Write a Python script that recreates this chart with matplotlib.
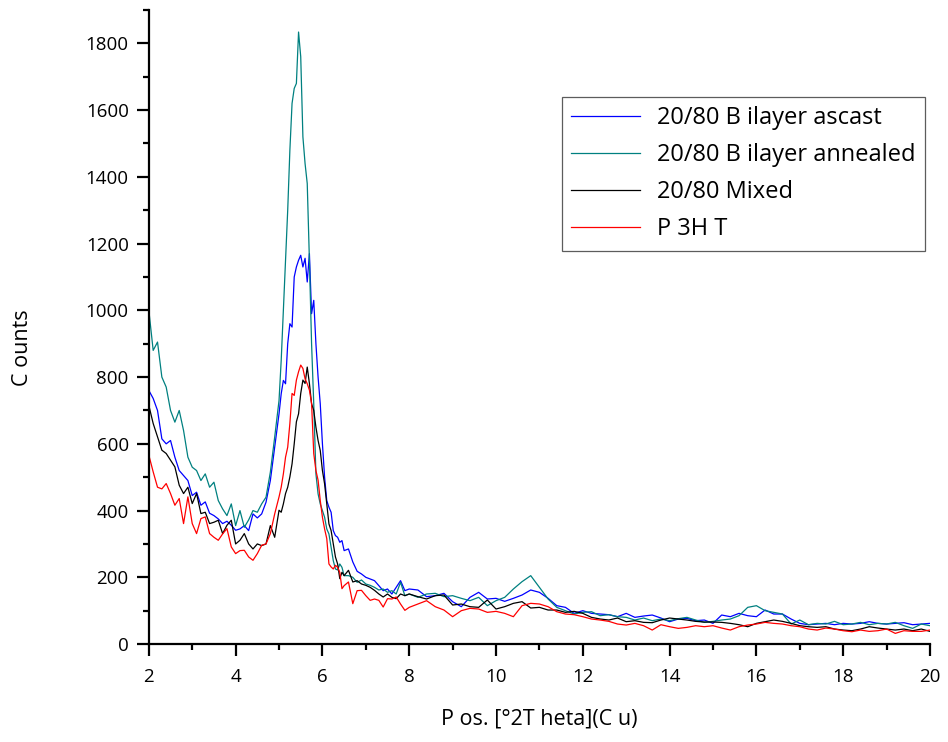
import numpy as np
import matplotlib
matplotlib.use('Agg')
import matplotlib.pyplot as plt
from matplotlib.ticker import MultipleLocator

plt.rcParams['font.family'] = ['Open Sans', 'DejaVu Sans']

# 2theta grid: 0.1 step, finer around the main peak, coarser at high angle
two_theta = np.round(np.concatenate([
    np.arange(2.0, 4.95, 0.1),
    np.arange(5.0, 6.525, 0.05),
    np.arange(6.6, 8.05, 0.1),
    np.arange(8.2, 20.05, 0.2),
]), 2)

ascast = [
    760, 736, 700, 615, 600, 610, 560, 520, 505, 490, 445, 455, 416, 426, 392,
    385, 375, 361, 368, 356, 341, 345, 355, 340, 390, 378, 390, 425, 490, 590,
    690, 750, 790, 780, 900, 960, 950, 1100, 1130, 1150, 1165, 1130, 1156, 1085, 1170,
    990, 1030, 900, 800, 720, 600, 500, 430, 410, 395, 340, 325, 320, 305, 310, 280,
    285, 246, 218, 210, 200, 195, 190, 175, 160, 165, 150, 170, 190, 160, 165,
    162, 142, 145, 152, 127, 112, 140, 155, 135, 137, 128, 137, 147, 162, 155,
    137, 115, 110, 92, 100, 92, 90, 88, 82, 92, 80, 84, 87, 78, 67,
    75, 77, 70, 72, 62, 87, 82, 92, 85, 82, 102, 90, 90, 75, 62,
    58, 60, 62, 58, 62, 60, 62, 67, 62, 60, 62, 64, 58, 60, 62,
]
annealed = [
    1000, 880, 905, 800, 770, 700, 665, 700, 640, 560, 530, 520, 490, 510, 470,
    485, 430, 405, 385, 420, 355, 400, 350, 372, 400, 395, 420, 440, 515, 620,
    730, 850, 1000, 1150, 1300, 1480, 1620, 1665, 1680, 1834, 1760, 1520, 1440, 1380, 1150,
    900, 720, 510, 450, 420, 400, 380, 345, 330, 290, 250, 225, 222, 240, 230, 205,
    205, 200, 185, 192, 180, 176, 170, 162, 165, 155, 160, 150, 185, 145, 150,
    140, 150, 152, 142, 145, 137, 130, 140, 115, 130, 140, 165, 187, 205, 170,
    135, 110, 100, 90, 95, 97, 85, 88, 82, 80, 72, 78, 70, 75, 70,
    76, 80, 72, 65, 68, 72, 75, 85, 110, 115, 100, 95, 90, 60, 72,
    58, 62, 60, 68, 58, 60, 65, 58, 62, 60, 65, 55, 47, 60, 55,
]
mixed = [
    715, 661, 621, 581, 571, 551, 531, 476, 451, 470, 421, 451, 391, 395, 361,
    365, 371, 331, 356, 371, 300, 311, 331, 300, 285, 300, 295, 300, 355, 320,
    401, 395, 420, 451, 470, 501, 540, 600, 666, 690, 751, 791, 781, 830, 781,
    720, 700, 650, 610, 580, 520, 480, 420, 360, 340, 300, 261, 240, 196, 215, 205,
    221, 186, 190, 180, 176, 170, 161, 150, 141, 150, 140, 136, 150, 145, 150,
    142, 135, 145, 147, 117, 120, 112, 110, 132, 105, 112, 122, 127, 108, 110,
    102, 102, 95, 98, 92, 80, 75, 72, 78, 67, 70, 65, 64, 72, 78,
    75, 72, 68, 66, 66, 65, 62, 58, 52, 62, 67, 72, 68, 62, 55,
    52, 50, 52, 45, 42, 40, 45, 52, 48, 45, 42, 45, 40, 45, 38,
]
p3ht = [
    566, 516, 470, 465, 481, 451, 416, 436, 361, 441, 361, 331, 376, 381, 331,
    320, 311, 330, 346, 291, 271, 280, 281, 261, 251, 271, 296, 300, 331, 390,
    441, 470, 510, 560, 590, 661, 751, 745, 791, 816, 836, 826, 795, 780, 761,
    721, 571, 520, 491, 430, 380, 345, 316, 240, 231, 225, 236, 230, 215, 166, 175,
    186, 121, 160, 161, 145, 131, 135, 131, 111, 136, 135, 141, 120, 101, 110,
    120, 130, 112, 102, 82, 100, 107, 105, 95, 98, 92, 82, 115, 122, 120,
    112, 97, 90, 88, 82, 75, 72, 68, 60, 57, 62, 55, 42, 58, 52,
    47, 50, 55, 52, 55, 48, 42, 52, 57, 60, 65, 62, 60, 55, 52,
    45, 42, 48, 45, 40, 37, 42, 38, 40, 45, 32, 40, 38, 38, 42,
]

labels = ['20/80 B ilayer ascast', '20/80 B ilayer annealed', '20/80 Mixed', 'P 3H T']
colors = ['#0000ff', '#008080', '#000000', '#ff0000']

fig = plt.figure(figsize=(9.48, 7.42), dpi=100)
ax = fig.add_axes([0.157, 0.132, 0.824, 0.8545])

for y, lab, c in zip([ascast, annealed, mixed, p3ht], labels, colors):
    ax.plot(two_theta, y, color=c, lw=0.9, label=lab)

ax.set_xlim(2, 20)
ax.set_ylim(0, 1900)
ax.xaxis.set_major_locator(MultipleLocator(2))
ax.xaxis.set_minor_locator(MultipleLocator(1))
ax.yaxis.set_major_locator(MultipleLocator(200))
ax.yaxis.set_minor_locator(MultipleLocator(100))

ax.spines['top'].set_visible(False)
ax.spines['right'].set_visible(False)
ax.spines['left'].set_linewidth(1.6)
ax.spines['bottom'].set_linewidth(1.6)
ax.tick_params(which='major', direction='out', length=8.5, width=1.6, labelsize=13.5, pad=6)
ax.tick_params(which='minor', direction='out', length=4.5, width=1.6)
ax.tick_params(axis='x', pad=9)

ax.set_xlabel('P os. [°2T heta](C u)', fontsize=15.5, labelpad=16)
ax.set_ylabel('C ounts', fontsize=15.5)
ax.yaxis.set_label_coords(-0.148, 0.468)

leg = ax.legend(loc='upper right', bbox_to_anchor=(0.994, 0.863), borderaxespad=0,
                fontsize=17, frameon=True, fancybox=False, edgecolor='#333333',
                handlelength=2.9, handletextpad=0.75, labelspacing=0.55, borderpad=0.4)
leg.get_frame().set_linewidth(0.9)

fig.savefig('out.png', dpi=100)
